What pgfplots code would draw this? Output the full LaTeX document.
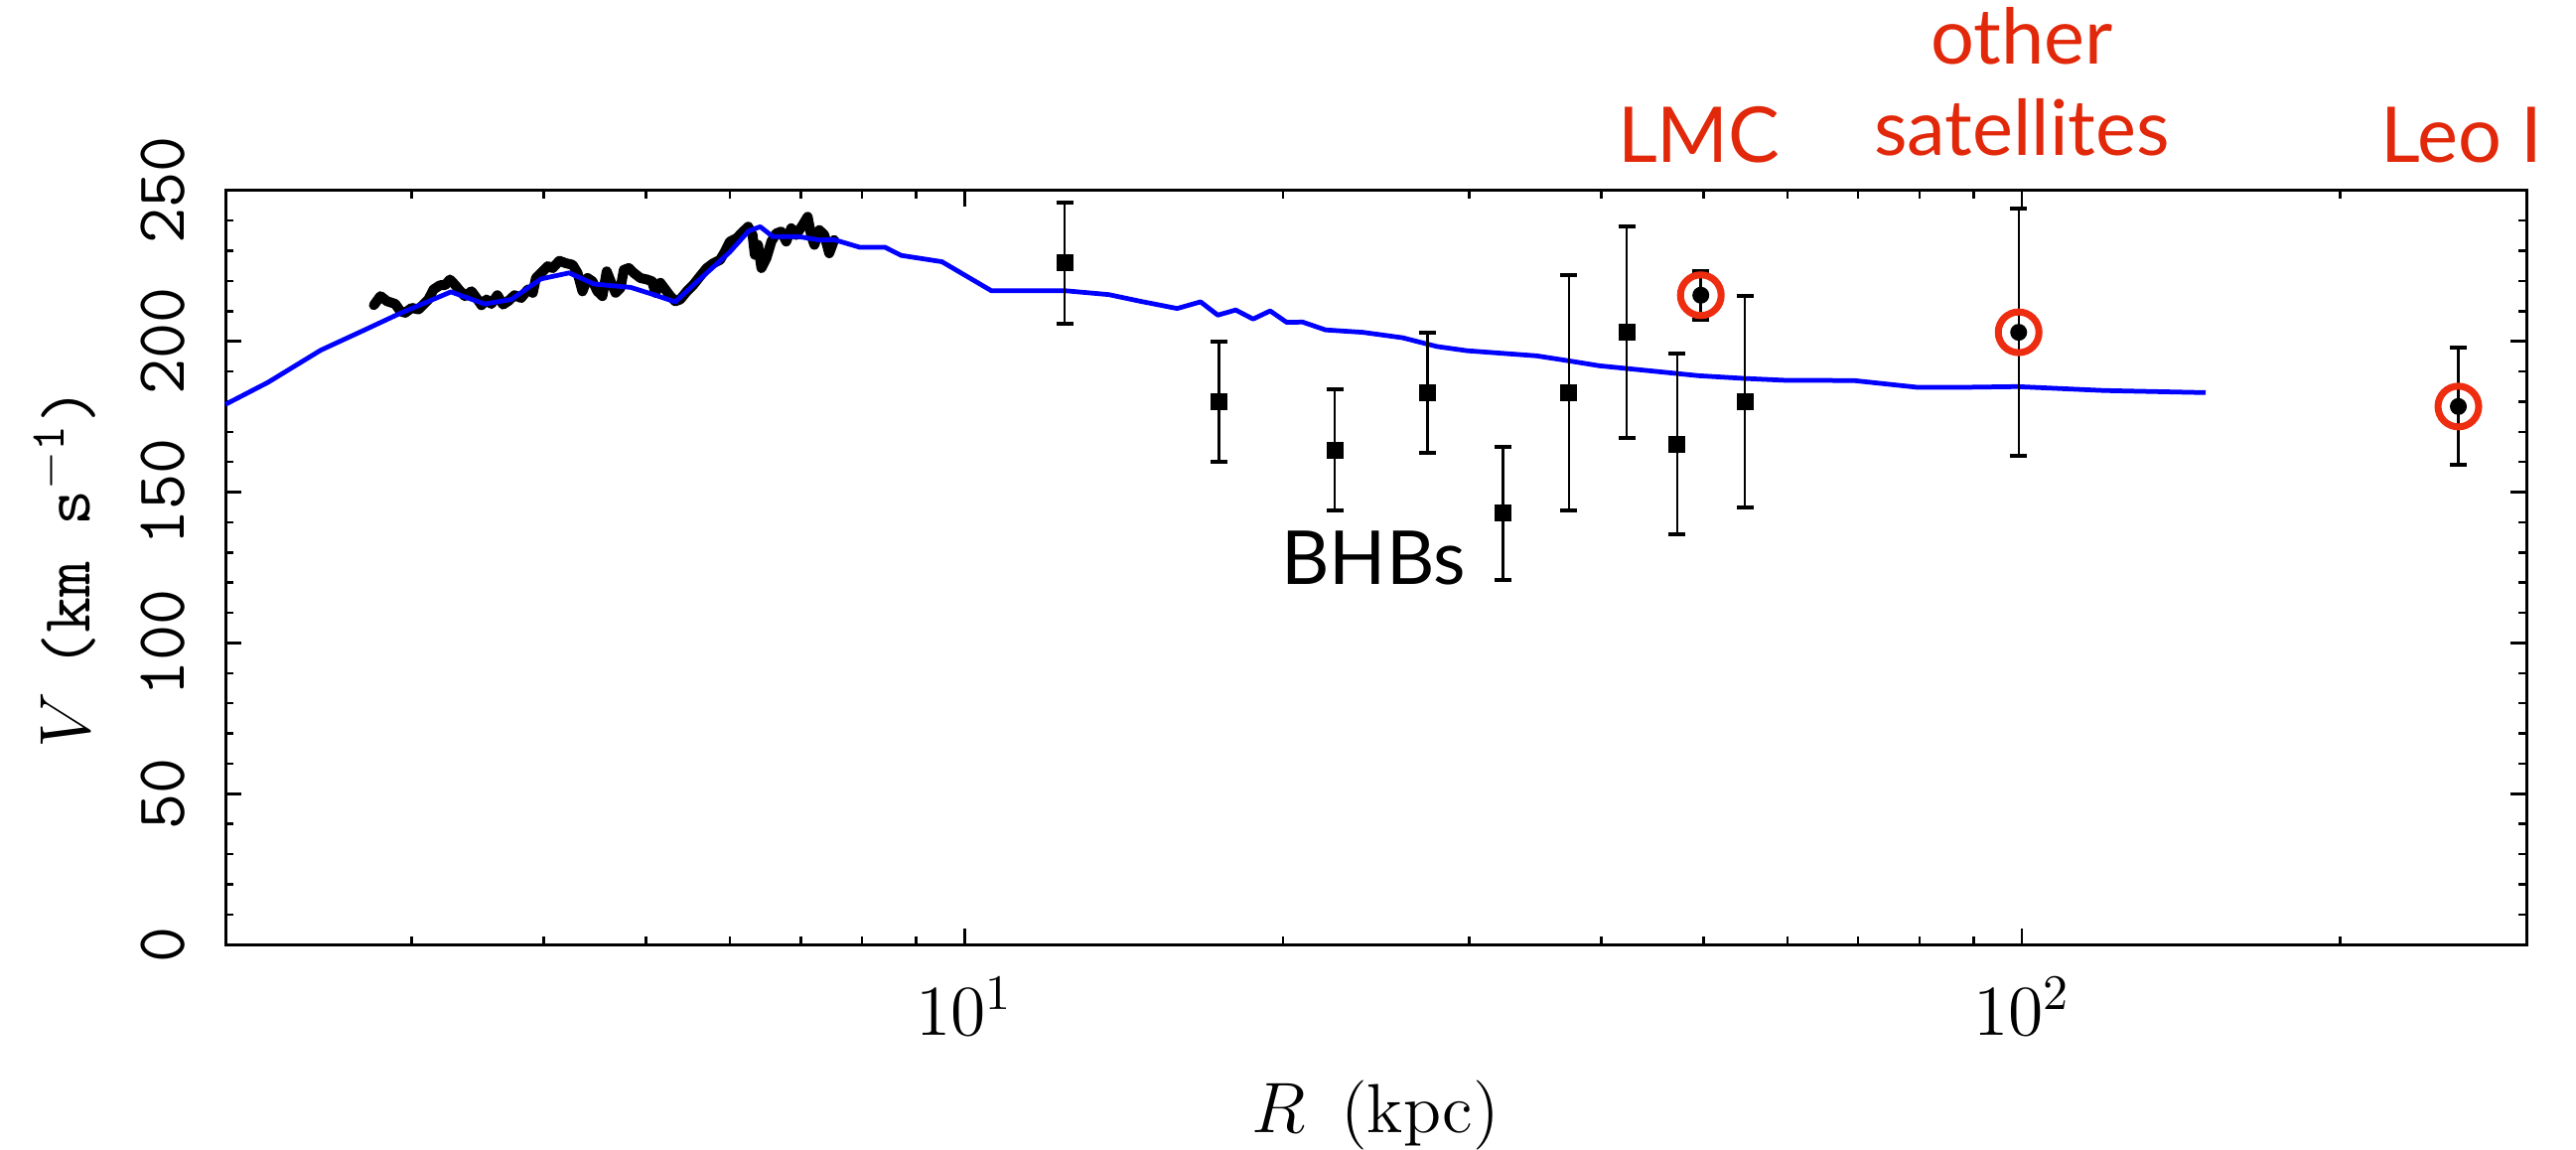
\documentclass[border=0pt]{standalone}
\usepackage{pgfplots}
\pgfplotsset{compat=1.18}
\usepackage{fontspec}
\newfontfamily\lato{Lato}
\definecolor{annred}{RGB}{226,40,10}
\definecolor{ringred}{RGB}{238,44,16}

\begin{document}
\begin{tikzpicture}
\begin{axis}[name=ax, at={(0,0)}, anchor=south west,
 scale only axis, width=463.4pt, height=151.86pt,
 xmode=log, xmin=2, xmax=300, ymin=0, ymax=250,
 clip=false,
 axis line style={line width=0.6pt},
 tick style={line width=0.5pt, black},
 major tick length=3.3pt, minor tick length=1.7pt,
 tick align=inside, xtick pos=both, ytick pos=both,
 xtick={10,100}, xticklabels={$10^{1}$,$10^{2}$},
 minor xtick={2,3,4,5,6,7,8,9,20,30,40,50,60,70,80,90,200},
 ytick={0,50,100,150,200,250}, yticklabels={0,50,100,150,200,250},
 minor ytick={10,20,30,40,60,70,80,90,110,120,130,140,160,170,180,190,210,220,230,240},
 xticklabel style={font=\fontsize{14}{16}\selectfont, inner sep=0pt, anchor=north},
 xticklabel shift=6.4pt,
 yticklabel style={font=\fontsize{14}{16}\selectfont\ttfamily, rotate=90, anchor=south, inner sep=0pt},
 yticklabel shift=8pt,
 xlabel={$R$\enspace(kpc)},
 ylabel={$V$ \texttt{(km s$^{-\mathtt{1}}$)}},
 every axis x label/.style={at={(axis description cs:0.5,0)}, anchor=base, yshift=-37.8pt, inner sep=0pt, font=\fontsize{14}{16}\selectfont},
 every axis y label/.style={at={(axis description cs:-0.0561,0.5)}, rotate=90, anchor=south, inner sep=0pt, font=\fontsize{14}{16}\selectfont},
]

% measured rotation curve (dense data)
\addplot[black, line width=2pt, line join=round, line cap=round] coordinates {
(2.763,212.0) (2.803,215.0) (2.844,213.3) (2.895,212.4) (2.927,210.0) (2.958,209.5)
(3.001,211.1) (3.045,210.6) (3.078,212.2) (3.112,213.9) (3.146,217.2) (3.191,218.6)
(3.226,218.6) (3.261,220.5) (3.296,218.8) (3.332,216.8) (3.369,215.0) (3.418,216.6)
(3.455,214.4) (3.493,212.0) (3.531,213.9) (3.569,212.4) (3.616,215.3) (3.661,212.2)
(3.701,213.3) (3.754,215.3) (3.809,214.4) (3.864,217.2) (3.906,216.1) (3.934,221.0)
(3.992,223.2) (4.035,224.9) (4.079,224.3) (4.138,226.7) (4.198,225.9) (4.259,225.4)
(4.305,222.7) (4.352,216.6) (4.400,221.0) (4.448,219.9) (4.496,216.6) (4.545,215.0)
(4.588,223.2) (4.627,219.9) (4.677,216.1) (4.728,217.7) (4.762,223.7) (4.814,224.3)
(4.866,222.7) (4.937,221.0) (5.010,220.5) (5.064,219.9) (5.101,216.1) (5.156,219.4)
(5.212,217.2) (5.269,215.0) (5.326,213.3) (5.384,213.9) (5.463,216.6) (5.542,218.8)
(5.623,221.6) (5.705,224.3) (5.787,225.9) (5.872,227.0) (5.936,229.8) (6.000,233.1)
(6.088,234.2) (6.175,236.4) (6.243,238.0) (6.303,235.3) (6.334,228.7) (6.379,232.0)
(6.426,224.3) (6.496,227.6) (6.567,233.1) (6.637,235.8) (6.710,236.4) (6.783,233.1)
(6.857,237.5) (6.931,235.3) (7.031,238.6) (7.107,241.3) (7.160,235.3) (7.211,232.0)
(7.290,236.9) (7.369,235.3) (7.449,229.2) (7.530,233.6)
};

% model curve
\addplot[blue, line width=0.95pt, line join=round] coordinates {
(2.0,179.1) (2.194,186.4) (2.462,197.1) (2.693,203.4) (2.926,209.3) (3.268,216.4)
(3.517,212.4) (3.727,213.9) (3.976,220.7) (4.228,222.7) (4.463,219.0) (4.833,217.9)
(5.082,215.5) (5.326,213.1) (5.502,217.7) (5.998,229.6) (6.25,236.6) (6.41,238.0)
(6.589,234.7) (6.98,234.7) (7.29,233.6) (7.53,233.7) (7.96,231.2) (8.41,231.2)
(8.71,228.5) (9.52,226.4) (10.6,216.8) (12.44,216.8) (13.69,215.5) (14.66,213.3)
(15.89,210.9) (16.72,213.1) (17.36,208.7) (18.05,210.4) (18.75,207.4) (19.46,210.1)
(20.17,206.3) (20.88,206.4) (21.95,203.8) (23.80,203.0) (25.96,201.2) (27.97,198.3)
(29.87,196.9) (34.76,195.2) (37.2,193.6) (39.86,191.9) (44.3,190.3) (49.5,188.6)
(54.7,187.7) (59.6,187.1) (69.4,187.0) (79.5,184.8) (89.4,184.8) (99.0,185.0)
(119.5,183.7) (149.2,183.0)
};

% BHBs
\addplot[only marks, mark=square*, mark size=1.5pt, black,
  error bars/.cd, y dir=both, y explicit,
  error bar style={line width=0.5pt, black},
  error mark options={rotate=90, line width=0.8pt, mark size=1.7pt, black}]
 coordinates {
 (12.44,226) +- (0,20)
 (17.4,180) +- (0,20)
 (22.4,164) +- (0,20)
 (27.4,183) +- (0,20)
 (32.3,143) +- (0,22)
 (37.3,183) +- (0,39)
 (42.3,203) +- (0,35)
 (47.2,166) +- (0,30)
 (54.7,180) +- (0,35)
 };

% satellites
\addplot[only marks, mark=*, mark size=1.5pt, black,
  error bars/.cd, y dir=both, y explicit,
  error bar style={line width=0.5pt, black},
  error mark options={rotate=90, line width=0.8pt, mark size=1.7pt, black}]
 coordinates {
 (49.7,215.3) +- (0,8)
 (99.3,203) +- (0,41)
 (258.7,178.4) +- (0,19.4)
 };
\addplot[only marks, mark=o, mark size=4.1pt, ringred, mark options={line width=1.4pt}]
 coordinates {(49.7,215.3) (99.3,203) (258.7,178.4)};

\node[font=\lato\fontsize{15.5}{18}\selectfont, text=annred, anchor=base, inner sep=0pt] at (axis cs:49.5,259.5) {LMC};
\node[font=\lato\fontsize{15.5}{18}\selectfont, text=annred, anchor=base, inner sep=0pt] at (axis cs:100,291.8) {other};
\node[font=\lato\fontsize{15.5}{18}\selectfont, text=annred, anchor=base, inner sep=0pt] at (axis cs:100,261.5) {satellites};
\node[font=\lato\fontsize{15.5}{18}\selectfont, text=annred, anchor=base, inner sep=0pt] at (axis cs:260.5,259.5) {Leo I};
\node[font=\lato\fontsize{15}{18}\selectfont, text=black, anchor=base, inner sep=0pt] at (axis cs:24.35,119.3) {BHBs};
\end{axis}
\path (ax.south west) ++(-45.4pt,-41.36pt) coordinate (bl);
\path (ax.north east) ++(10pt,38.38pt) coordinate (tr);
\path (bl) rectangle (tr);
\end{tikzpicture}
\end{document}
